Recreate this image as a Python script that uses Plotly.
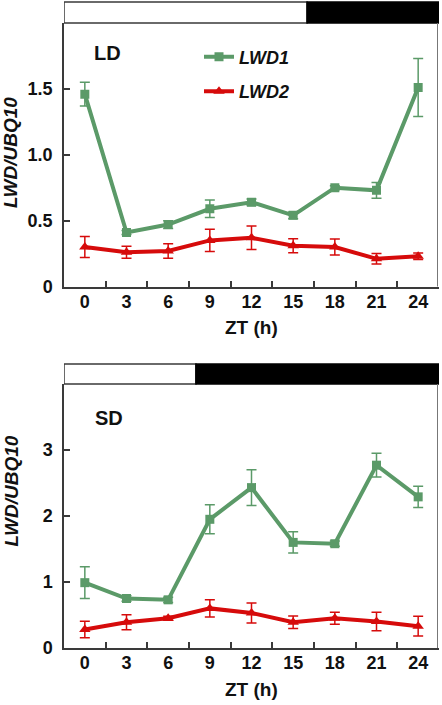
import plotly.graph_objects as go

zt = [0, 3, 6, 9, 12, 15, 18, 21, 24]
x_ticks = [0, 3, 6, 9, 12, 15, 18, 21, 24]
x_minor = [1.5, 4.5, 7.5, 10.5, 13.5, 16.5, 19.5, 22.5]

# Long day (LD)
ld_lwd1 = [1.46, 0.41, 0.47, 0.59, 0.64, 0.54, 0.75, 0.73, 1.51]
ld_lwd1_err = [0.09, 0.015, 0.03, 0.067, 0.025, 0.025, 0.015, 0.06, 0.22]
ld_lwd2 = [0.30, 0.26, 0.27, 0.35, 0.37, 0.31, 0.30, 0.21, 0.23]
ld_lwd2_err = [0.08, 0.045, 0.055, 0.085, 0.09, 0.053, 0.06, 0.04, 0.025]

# Short day (SD)
sd_lwd1 = [0.99, 0.75, 0.73, 1.95, 2.43, 1.60, 1.58, 2.77, 2.29]
sd_lwd1_err = [0.24, 0.04, 0.04, 0.22, 0.27, 0.16, 0.04, 0.18, 0.16]
sd_lwd2 = [0.28, 0.39, 0.45, 0.60, 0.53, 0.39, 0.45, 0.40, 0.33]
sd_lwd2_err = [0.125, 0.115, 0.03, 0.13, 0.15, 0.095, 0.09, 0.14, 0.15]

ld_light_hours = 16
sd_light_hours = 8

ld_yticks = [0, 0.5, 1.0, 1.5]
ld_yticktext = ["0", "0.5", "1.0", "1.5"]
sd_yticks = [0, 1, 2, 3]
sd_yticktext = ["0", "1", "2", "3"]

GREEN = "#5b9a68"
RED = "#d60b0b"
AX = "#3a3a3a"
FONT = "Liberation Sans"
XR = [-1.5, 25.5]

fig = go.Figure()


def add_series(xa, ya, y, err, color, symbol, size, name, show):
    fig.add_trace(go.Scatter(
        x=zt, y=y, xaxis=xa, yaxis=ya, mode="lines+markers", name=name,
        showlegend=show, legendgroup=name,
        line=dict(color=color, width=4),
        marker=dict(color=color, symbol=symbol, size=size),
        error_y=dict(type="data", array=err, visible=True, color=color,
                     thickness=1.5, width=5),
    ))


add_series("x", "y", ld_lwd1, ld_lwd1_err, GREEN, "square", 9, "<i>LWD1</i>", True)
add_series("x", "y", ld_lwd2, ld_lwd2_err, RED, "triangle-up", 10, "<i>LWD2</i>", True)
add_series("x2", "y2", sd_lwd1, sd_lwd1_err, GREEN, "square", 9, "<i>LWD1</i>", False)
add_series("x2", "y2", sd_lwd2, sd_lwd2_err, RED, "triangle-up", 10, "<i>LWD2</i>", False)

tickfont = dict(family=FONT, size=18, color="#111", weight="bold")

xaxis_common = dict(
    range=XR, tickmode="array", tickvals=x_ticks, ticks="", automargin=False,
    showline=True, linecolor=AX, linewidth=1.5, showgrid=False, zeroline=False,
    tickfont=tickfont, ticklabelstandoff=-2,
    minor=dict(tickmode="array", tickvals=x_minor, ticks="inside", ticklen=6,
               tickcolor=AX, tickwidth=1.5, showgrid=False),
)
yaxis_common = dict(
    showline=True, linecolor=AX, linewidth=1.5, showgrid=False, zeroline=False,
    ticks="inside", ticklen=6, tickcolor=AX, tickwidth=1.5, automargin=False,
    tickfont=tickfont, ticklabelstandoff=6, tickmode="array",
)

TOP_DOM = [0.5784, 1.0]
BOT_DOM = [0.0, 0.4224]

fig.update_layout(
    template="none",
    width=442, height=705,
    margin=dict(l=64, r=3, t=23, b=57, autoexpand=False),
    paper_bgcolor="white", plot_bgcolor="white",
    xaxis=dict(domain=[0, 1], anchor="y", **xaxis_common),
    yaxis=dict(domain=TOP_DOM, anchor="x", range=[0, 2.0],
               tickvals=ld_yticks, ticktext=ld_yticktext, **yaxis_common),
    xaxis2=dict(domain=[0, 1], anchor="y2", **xaxis_common),
    yaxis2=dict(domain=BOT_DOM, anchor="x2", range=[0, 4.0],
                tickvals=sd_yticks, ticktext=sd_yticktext, **yaxis_common),
    legend=dict(x=0.36, y=0.975, xanchor="left", yanchor="top",
                bgcolor="rgba(0,0,0,0)", tracegroupgap=8,
                font=dict(family=FONT, size=18, color="#111", weight="bold")),
    showlegend=True,
)

shapes = []
for xa, y0, y1, light in [("x", 1.0, 1.0336, ld_light_hours),
                          ("x2", 0.4224, 0.4544, sd_light_hours)]:
    shapes.append(dict(type="rect", xref=xa, yref="paper", x0=XR[0], x1=light,
                       y0=y0, y1=y1, fillcolor="white",
                       line=dict(color=AX, width=1.5), layer="above"))
    shapes.append(dict(type="rect", xref=xa, yref="paper", x0=light, x1=XR[1],
                       y0=y0, y1=y1, fillcolor="black",
                       line=dict(color="black", width=1.5), layer="above"))
# right frame lines
shapes.append(dict(type="line", xref="x domain", yref="paper", x0=0.996, x1=0.996,
                   y0=TOP_DOM[0], y1=TOP_DOM[1], line=dict(color="#777", width=1)))
shapes.append(dict(type="line", xref="x2 domain", yref="paper", x0=0.996, x1=0.996,
                   y0=BOT_DOM[0], y1=BOT_DOM[1], line=dict(color="#777", width=1)))
fig.update_layout(shapes=shapes)

title_font = dict(family=FONT, size=19, color="#111", weight="bold")
label_font = dict(family=FONT, size=20, color="#111", weight="bold")
ann = []
for yc in [0.792, 0.2504]:
    ann.append(dict(text="<i>LWD/UBQ10</i>", xref="paper", yref="paper",
                    x=-0.1413, y=yc, textangle=-90, showarrow=False,
                    xanchor="center", yanchor="middle", font=title_font))
for yc in [0.5136, -0.0656]:
    ann.append(dict(text="ZT (h)", xref="paper", yref="paper", x=0.5005, y=yc,
                    showarrow=False, xanchor="center", yanchor="middle",
                    font=title_font))
ann.append(dict(text="LD", xref="paper", yref="paper", x=0.1173, y=0.9515,
                xanchor="center", yanchor="middle", showarrow=False, font=label_font))
ann.append(dict(text="SD", xref="paper", yref="paper", x=0.12, y=0.3675,
                xanchor="center", yanchor="middle", showarrow=False, font=label_font))
fig.update_layout(annotations=ann)

fig.write_html(
    "out.html",
    config={"displayModeBar": False},
    post_script="document.body.style.margin='0px';document.body.style.overflow='hidden';",
)
